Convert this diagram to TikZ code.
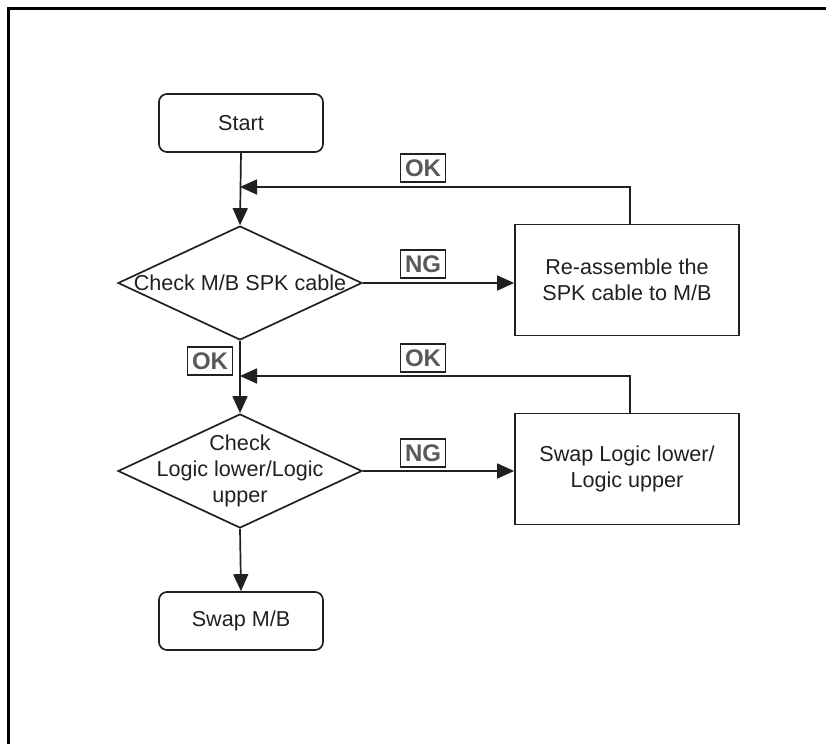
\documentclass[tikz,border=0pt]{standalone}
\usepackage{fontspec}
\setmainfont{Liberation Sans}
\usetikzlibrary{arrows.meta,shapes.geometric}
\definecolor{ink}{HTML}{231F20}
\definecolor{lab}{HTML}{58595B}
\tikzset{
  base/.style={draw=ink, line width=0.85pt, text=ink, font=\fontsize{10.8}{13}\selectfont, align=center, inner sep=0pt},
  term/.style={base, rounded corners=4pt, minimum width=82pt, minimum height=29pt},
  proc/.style={base, minimum width=112pt, minimum height=55.5pt},
  decision/.style={draw=ink, line width=0.85pt, diamond, minimum width=122pt, minimum height=57pt, inner sep=0pt},
  dtext/.style={text=ink, font=\fontsize{10.8}{13}\selectfont, align=center, inner sep=0pt},
  tag/.style={draw=ink, line width=0.7pt, text=lab, font=\fontsize{12}{13}\selectfont\bfseries, minimum width=22.5pt, minimum height=14pt, inner sep=0pt},
  conn/.style={draw=ink, line width=0.85pt, -{Triangle[length=8.5pt,width=7.5pt]}},
}
\begin{document}
\begin{tikzpicture}[x=0.5pt,y=-0.5pt]
\useasboundingbox (0,0) rectangle (826,744);
\draw[line width=1.7pt, black] (8.5,744) -- (8.5,8.5) -- (826,8.5);

\node[term] (start) at (241,123) {Start};
\node[decision] (d1) at (240,283) {};
\node[dtext] (d1t) at (240,283) {Check M/B SPK cable};
\node[proc] (r1) at (627,280) {Re-assemble the\\SPK cable to M/B};
\node[decision] (d2) at (240,471) {};
\node[dtext] (d2t) at (240,471) {Check\\Logic lower/Logic\\upper};
\node[proc] (r2) at (627,469) {Swap Logic lower/\\Logic upper};
\node[term] (end) at (241,621) {Swap M/B};

\coordinate (j1) at (240,187);
\coordinate (j2) at (240,376);

\draw[conn] (start.south) -- (d1.north);
\draw[conn] (d1.east) -- (d1.east -| r1.west);
\draw[conn] ([xshift=1.5pt]r1.north) |- (j1);
\draw[conn] (d1.south) -- (d2.north);
\draw[conn] ([xshift=1.5pt]r2.north) |- (j2);
\draw[conn] (d2.east) -- (d2.east -| r2.west);
\draw[conn] (d2.south) -- (end.north);

\node[tag] (ok1) at (423,168) {OK};
\node[tag] (ng1) at (423,264) {NG};
\node[tag] (ok2) at (210,361) {OK};
\node[tag] (ok3) at (423,358) {OK};
\node[tag] (ng2) at (423,453) {NG};
\end{tikzpicture}
\end{document}
